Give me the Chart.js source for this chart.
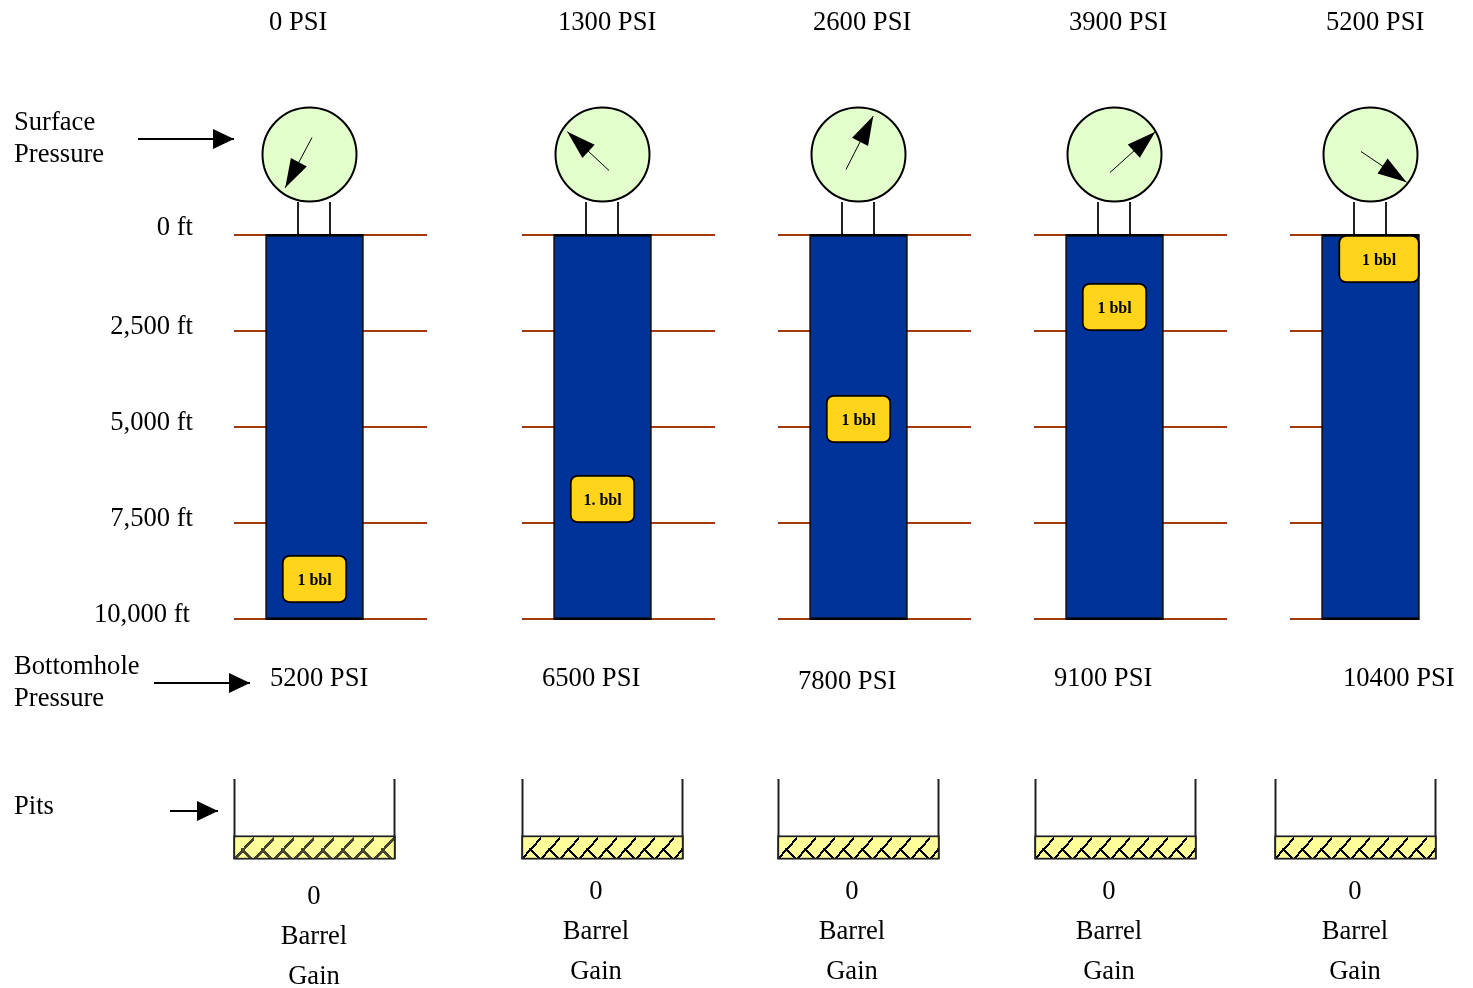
<!DOCTYPE html>
<html>
<head>
<meta charset="utf-8">
<title>Kick migration</title>
<script src="https://cdn.jsdelivr.net/npm/chart.js@4"></script>
<style>
  html, body { margin: 0; padding: 0; background: #fff; overflow: hidden; }
  canvas { display: block; }
</style>
</head>
<body>
<canvas id="chart" width="1473" height="988"></canvas>
<script>
// values
const surfacePressure = [0, 1300, 2600, 3900, 5200];
const bottomholePressure = [5200, 6500, 7800, 9100, 10400];
const barrelGain = [0, 0, 0, 0, 0];
const depthTicks = [0, 2500, 5000, 7500, 10000];
const depthLabels = ['0 ft', '2,500 ft', '5,000 ft', '7,500 ft', '10,000 ft'];
const wellDepth = 10000;
const kickTop = [8333, 6250, 4167, 1250, 0];
const kickBottom = [9583, 7500, 5417, 2500, 1250];
const kickLabels = ['1 bbl', '1. bbl', '1 bbl', '1 bbl', '1 bbl'];
const needleBearing = [208, 313, 27, 48, 124];
const needleLength = [57, 57, 60, 61, 55];

// layout
const W = 1473, H = 988;
const PX_PER_FT = 0.0384, TOP_PX = 235;
const SERIF = '"Liberation Serif", "Times New Roman", serif';
const BLUE = '#003399', GOLD = '#FFD41A', GAUGE = '#E2FFCC', BROWN = '#A33A0C';
const wellX = [314.5, 602.5, 858.5, 1114.5, 1370.5];
const gaugeX = [309.5, 602.5, 858.5, 1114.5, 1370.5];
const stemX = [314, 602, 858, 1114, 1370];
const tickFrom = [234, 522, 778, 1034, 1290];
const tickTo = [427, 715, 971, 1227, 1370];
const kickX = [314.5, 602.5, 858.5, 1114.5, 1379];
const needleTail = [[2.5, -17], [6.5, 16], [-12.5, 15], [-4.5, 18], [-9.5, -3]];
const pitLeft = [234, 522, 778, 1035, 1275];
const topLabelX = [269, 558, 813, 1069, 1326];
const bottomLabelX = [270, 542, 798, 1054, 1343];
const bottomLabelY = [686, 686, 689, 686, 686];
const gainX = [314, 596, 852, 1109, 1355];
const gainY = [904, 899, 899, 899, 899];
const depthLabelRight = [193, 193, 193, 193, 190];
const depthLabelY = [235, 334, 430, 526, 622];

function hatch(left, color, period, thick) {
  const tile = document.createElement('canvas');
  tile.width = period; tile.height = 21;
  const c = tile.getContext('2d');
  c.fillStyle = '#FFFF99';
  c.fillRect(0, 0, period, 21);
  c.fillStyle = color;
  for (let i = 0; i < period; i++) {
    const y = Math.round(21 - (i + 1) * 21 / period);
    c.fillRect(i, y, 2, thick);
    if (i >= 7 && i < 18) c.fillRect(i, 11 + (i - 7), 2, thick);
  }
  const p = document.getElementById('chart').getContext('2d').createPattern(tile, 'repeat');
  p.setTransform(new DOMMatrix().translate(left, 837));
  return p;
}

function segment(x1, y1, x2, y2, axis, color, width, arrow) {
  return {
    type: 'line', yAxisID: axis, order: 5,
    data: [{ x: x1, y: y1 }, { x: x2, y: y2 }],
    borderColor: color, borderWidth: width, pointRadius: 0, fill: false, arrow: arrow
  };
}

const datasets = [];

// depth ticks behind the wells
depthTicks.forEach(d => {
  wellX.forEach((_, i) => {
    const s = segment(tickFrom[i], d, tickTo[i], d, 'y', BROWN, 2);
    s.order = 9;
    datasets.push(s);
  });
});

// stems between gauge and well
stemX.forEach(x => {
  datasets.push(segment(x - 16, 202, x - 16, TOP_PX, 'yPx', '#222', 2));
  datasets.push(segment(x + 16, 202, x + 16, TOP_PX, 'yPx', '#222', 2));
});

datasets.push({
  type: 'bar', label: 'Well', yAxisID: 'y', order: 4, grouped: false,
  data: wellX.map(x => ({ x: x, y: [0, wellDepth] })),
  backgroundColor: BLUE, borderColor: '#111', borderWidth: 2, borderSkipped: false, barThickness: 98
});

// black caps over the brown lines at top and bottom of each well
wellX.forEach(x => {
  [0, wellDepth].forEach(d => {
    const s = segment(x - 49, d, x + 49, d, 'y', '#000', 2);
    s.order = 3.5;
    datasets.push(s);
  });
});

// the last block is wider than the others
[[0, 1, 2, 3], [4]].forEach((group, g) => {
  datasets.push({
    type: 'bar', label: 'Kick', yAxisID: 'y', order: 3, grouped: false,
    data: group.map(i => ({ x: kickX[i], y: [kickTop[i], kickBottom[i]] })),
    backgroundColor: GOLD, borderColor: '#000', borderWidth: 2, borderSkipped: false,
    borderRadius: 8, barThickness: g ? 81 : 65
  });
});

datasets.push({
  type: 'bubble', label: 'Gauge', yAxisID: 'yPx', order: 2,
  data: gaugeX.map(x => ({ x: x, y: 154.5, r: 47 })),
  backgroundColor: GAUGE, borderColor: '#000', borderWidth: 2
});

// gauge needles
needleBearing.forEach((b, i) => {
  const a = b * Math.PI / 180;
  const x0 = gaugeX[i] + needleTail[i][0], y0 = 154.5 + needleTail[i][1];
  const s = segment(x0, y0, x0 + needleLength[i] * Math.sin(a), y0 - needleLength[i] * Math.cos(a),
    'yPx', '#000', 1, { len: 29, width: 18 });
  s.order = 1;
  datasets.push(s);
});

// side arrows
datasets.push(segment(138, 139, 234, 139, 'yPx', '#000', 2, { len: 21, width: 20 }));
datasets.push(segment(154, 683, 250, 683, 'yPx', '#000', 2, { len: 21, width: 20 }));
datasets.push(segment(170, 811, 218, 811, 'yPx', '#000', 2, { len: 21, width: 20 }));

// pits
datasets.push({
  type: 'bar', label: 'Pit', yAxisID: 'yPx', order: 3, grouped: false,
  data: pitLeft.map(x => ({ x: x + 80.5, y: [835.5, 859.5] })),
  backgroundColor: pitLeft.map((x, i) => i === 0 ? hatch(x, '#45452e', 20, 3) : hatch(x, '#000', 19, 2)),
  borderColor: '#222', borderWidth: 2, borderSkipped: false, barThickness: 162
});
pitLeft.forEach(x => {
  datasets.push(segment(x + 0.5, 779, x + 0.5, 859, 'yPx', '#222', 2));
  datasets.push(segment(x + 160.5, 779, x + 160.5, 859, 'yPx', '#222', 2));
});

const arrowHeads = {
  id: 'arrowHeads',
  afterDatasetsDraw(chart) {
    const c = chart.ctx;
    chart.data.datasets.forEach((ds, i) => {
      if (!ds.arrow) return;
      const pts = chart.getDatasetMeta(i).data;
      const a = pts[0], b = pts[1];
      const ang = Math.atan2(b.y - a.y, b.x - a.x);
      c.save();
      c.translate(b.x, b.y);
      c.rotate(ang);
      c.fillStyle = '#000';
      c.beginPath();
      c.moveTo(0, 0);
      c.lineTo(-ds.arrow.len, -ds.arrow.width / 2);
      c.lineTo(-ds.arrow.len, ds.arrow.width / 2);
      c.closePath();
      c.fill();
      c.restore();
    });
  }
};

const textLabels = {
  id: 'textLabels',
  afterDraw(chart) {
    const c = chart.ctx;
    const depth = chart.scales.y;
    c.save();
    c.fillStyle = '#000';
    c.textBaseline = 'alphabetic';

    const put = (t, x, y, align) => {
      c.textAlign = align || 'left';
      c.fillText(t, x, y);
    };

    c.font = '26.6px ' + SERIF;
    surfacePressure.forEach((p, i) => put(p + ' PSI', topLabelX[i], 30));
    bottomholePressure.forEach((p, i) => put(p + ' PSI', bottomLabelX[i], bottomLabelY[i]));
    depthLabels.forEach((t, i) => put(t, depthLabelRight[i], depthLabelY[i], 'right'));
    put('Surface', 14, 130);
    put('Pressure', 14, 162);
    put('Bottomhole', 14, 674);
    put('Pressure', 14, 706);
    put('Pits', 14, 814);
    barrelGain.forEach((g, i) => {
      put(String(g), gainX[i], gainY[i], 'center');
      put('Barrel', gainX[i], gainY[i] + 40, 'center');
      put('Gain', gainX[i], gainY[i] + 80, 'center');
    });

    c.font = 'bold 16px ' + SERIF;
    kickLabels.forEach((t, i) => {
      const mid = depth.getPixelForValue((kickTop[i] + kickBottom[i]) / 2);
      put(t, kickX[i], mid + 6, 'center');
    });
    c.restore();
  }
};

new Chart(document.getElementById('chart'), {
  type: 'bar',
  data: { datasets: datasets },
  options: {
    responsive: false,
    animation: false,
    events: [],
    devicePixelRatio: 1,
    layout: { padding: 0, autoPadding: false },
    plugins: { legend: { display: false }, tooltip: { enabled: false }, title: { display: false } },
    scales: {
      x: { type: 'linear', min: 0, max: W, offset: false, display: false },
      y: { type: 'linear', reverse: true, min: -TOP_PX / PX_PER_FT, max: (H - TOP_PX) / PX_PER_FT, display: false },
      yPx: { type: 'linear', reverse: true, min: 0, max: H, display: false }
    }
  },
  plugins: [arrowHeads, textLabels]
});
</script>
</body>
</html>
